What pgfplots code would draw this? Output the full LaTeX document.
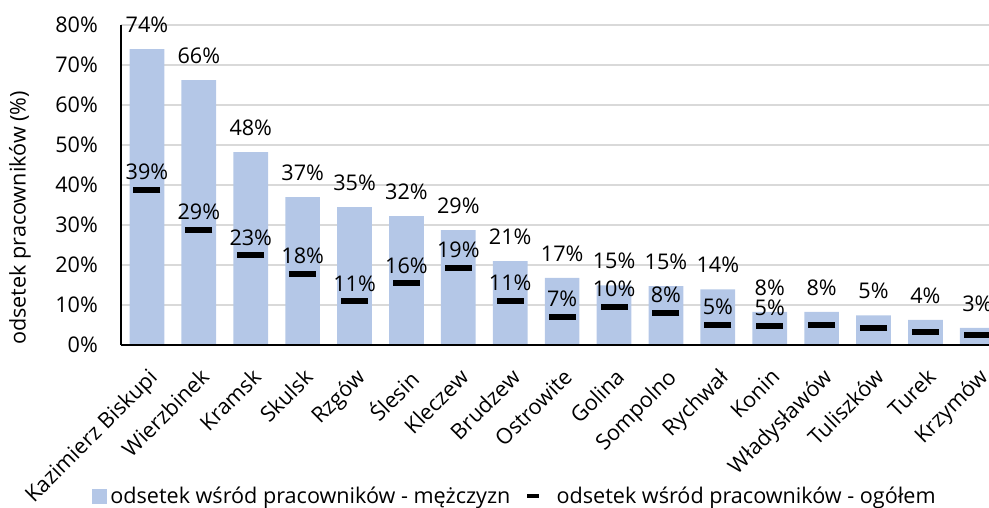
\documentclass[border=0pt]{standalone}
\usepackage{pgfplots}
\usepackage{pgfplotstable}
\pgfplotsset{compat=1.18}
\usepackage{fontspec}
\setmainfont{Open Sans}
\definecolor{barblue}{HTML}{B4C7E7}
\definecolor{gridgray}{HTML}{D9D9D9}
\newcommand\f{\fontsize{21.6}{26}\selectfont}

% bars: odsetek wsrod pracownikow - mezczyzn
\pgfplotstableread{
x bar blab
0 74.0 74
1 66.2 66
2 48.2 48
3 37.0 37
4 34.5 35
5 32.2 32
6 28.7 29
7 21.0 21
8 16.8 17
9 14.9 15
10 14.7 15
11 13.9 14
12 8.3 8
13 8.3 8
14 7.4 5
15 6.3 4
16 4.3 3
}\bars

% markers: odsetek wsrod pracownikow - ogolem (labelled ones)
\pgfplotstableread{
x mk mlab
0 38.8 39
1 28.7 29
2 22.4 23
3 17.8 18
4 10.9 11
5 15.4 16
6 19.2 19
7 11.1 11
8 7.1 7
9 9.6 10
10 8.1 8
11 5.0 5
12 4.7 5
}\mka

% markers without a label
\pgfplotstableread{
x mk
13 5.1
14 4.3
15 3.3
16 2.6
}\mkb

\begin{document}
\begin{tikzpicture}
\begin{axis}[
  scale only axis,
  width=868pt, height=320pt,
  xmin=-0.5, xmax=16.225,
  ymin=0, ymax=80,
  axis x line*=bottom,
  axis y line*=left,
  axis line style={-, line width=2pt, black},
  clip mode=individual,
  major tick length=0pt,
  ytick={0,10,...,80},
  yticklabel={\pgfmathprintnumber{\tick}\%},
  /pgf/number format/assume math mode=true,
  yticklabel style={font=\f, inner sep=0pt, xshift=-23pt},
  xtick={0,...,16},
  xticklabels={Kazimierz Biskupi, Wierzbinek, Kramsk, Skulsk, Rzgów, Ślesin, Kleczew, Brudzew, Ostrowite, Golina, Sompolno, Rychwał, Konin, Władysławów, Tuliszków, Turek, Krzymów},
  xticklabel style={font=\f, yshift=-22pt, xshift=0pt, rotate=45, anchor=north east, inner sep=0pt},
  ymajorgrids,
  grid style={gridgray, line width=1.5pt},
  ylabel={odsetek pracowników (\%)},
  ylabel style={font=\f, at={(axis description cs:-0.1164,0.397)}, anchor=center},
  legend style={at={(0.4539,-0.472)}, anchor=center, draw=none, fill=none,
    font=\f, inner sep=0pt, legend columns=2,
    /tikz/every even column/.append style={column sep=13pt}},
  legend cell align=left,
]
\addplot[ybar, bar width=34.7pt, fill=barblue, draw=none,
  point meta=explicit symbolic,
  nodes near coords={\pgfplotspointmeta\%},
  nodes near coords style={anchor=south, inner sep=0pt, yshift=16pt, font=\f, black},
  legend image code/.code={\fill[barblue] (0pt,-7.5pt) rectangle (15pt,7.5pt);
    \path (16pt,0pt);}]
  table[x=x, y=bar, meta=blab] {\bars};
\addlegendentry{odsetek wśród pracowników - mężczyzn}
\addplot[only marks, mark=-, mark size=13.5pt, mark options={line width=6pt, black},
  point meta=explicit symbolic,
  nodes near coords={\pgfplotspointmeta\%},
  nodes near coords style={anchor=south, inner sep=0pt, yshift=7pt, font=\f, black},
  legend image code/.code={\draw[line width=4pt] (0pt,0pt) -- (12pt,0pt);
    \path (23pt,0pt);}]
  table[x=x, y=mk, meta=mlab] {\mka};
\addlegendentry{\hspace{4pt}odsetek wśród pracowników - ogółem}
\addplot[only marks, mark=-, mark size=13.5pt, mark options={line width=6pt, black}, forget plot]
  table[x=x, y=mk] {\mkb};
\coordinate (O) at (rel axis cs:0,0);
\coordinate (R) at (rel axis cs:1,0);
\end{axis}
\draw[line width=2pt] (O) -- (R);
\pgfresetboundingbox
\path ([shift={(-121pt,-162pt)}]O) rectangle ([shift={(868pt,345pt)}]O);
\end{tikzpicture}
\end{document}
